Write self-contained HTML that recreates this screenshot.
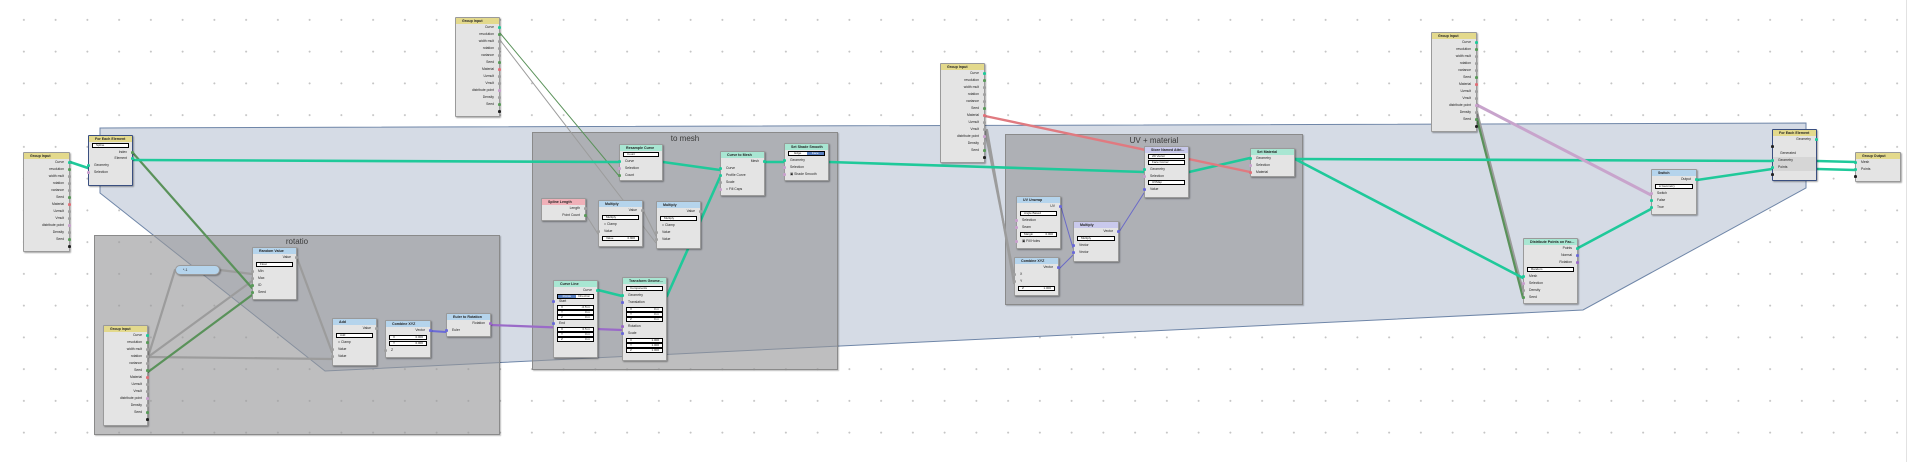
<!DOCTYPE html>
<html><head><meta charset="utf-8"><style>
*{box-sizing:border-box;margin:0;padding:0}
body{width:1920px;height:462px;overflow:hidden;position:relative;background:#fff;
background-image:radial-gradient(circle,#c4c4c4 0.8px,transparent 1.1px);background-size:31.75px 31.75px;background-position:8px 4px;
font-family:"Liberation Sans",sans-serif}
.abs{position:absolute}
.fr{position:absolute;background:rgba(150,150,152,.62);border:1px solid #8a8a8a;box-shadow:1px 1px 1px rgba(0,0,0,.25)}
.fr b{display:block;text-align:center;font:normal 8px "Liberation Sans",sans-serif;color:#3a3a3a;margin-top:1px}
.n{position:absolute;background:#e4e4e4;border:1px solid #9a9a9a;border-radius:1px;box-shadow:1px 1px 1.5px rgba(0,0,0,.35);font-size:3.4px;color:#222}
.h{height:6px;line-height:6px;font-weight:bold;padding-left:6px;white-space:nowrap;overflow:hidden;font-size:3.6px}
.y{background:#e3d98c}.b{background:#b5d4ec}.m{background:#a8e6d2}.p{background:#f0b0b8}.v{background:#c9c9ec}
.r{height:7px;line-height:7px;text-align:right;padding-right:5px;position:relative;white-space:nowrap}
.l{text-align:left;padding-left:5px}
.r i{position:absolute;right:-2px;top:2.3px;width:2.6px;height:2.6px;border-radius:50%;background:#a0a0a0}
.l i{left:-2px;right:auto}
i.g{background:#1fc99a}i.d{background:#5a9a5a}i.rd{background:#e07078}i.pk{background:#c8a0cc}i.k{background:#222}i.bl{background:#6a6ad8}i.pu{background:#9a6ac8}i.lb{background:#5aa0e0}
.dd{height:5px;margin:1px 3px;border:1px solid #000;border-bottom-width:1.5px;background:#fff;font-size:3px;line-height:3px;padding-left:3px}
.fd{height:5px;margin:1px 3px;border:1px solid #000;background:#fff;font-size:3px;line-height:3px;display:flex;justify-content:space-between;padding:0 3px}
.fe{border:1px solid #3a4f80}
</style></head><body>
<div class="abs" style="left:1906px;top:0;width:1px;height:462px;background:#e2e2e2"></div>
<svg class="abs" style="left:0;top:0" width="1920" height="462">
<polygon points="100,128 1806,123 1806,188 1583,310 325,371 100,193" fill="#d5dbe5" stroke="#6f86a8" stroke-width="1"/>
</svg>
<div class="fr" style="left:94px;top:235px;width:406px;height:200px"><b>rotatio</b></div>
<div class="fr" style="left:532px;top:132px;width:306px;height:238px"><b>to mesh</b></div>
<div class="fr" style="left:1005px;top:134px;width:298px;height:171px"><b>UV + material</b></div>
<svg class="abs" style="left:0;top:0" width="1920" height="462" fill="none" stroke-linecap="round">
<g stroke="#9c9c9c" stroke-width="2.2">
<line x1="148" y1="357" x2="175" y2="270"/><line x1="148" y1="357" x2="252" y2="281"/><line x1="148" y1="357" x2="332" y2="359"/>
<line x1="220" y1="270" x2="252" y2="274"/><line x1="297" y1="258" x2="332" y2="352"/>
<line x1="985" y1="130" x2="1014" y2="276"/><line x1="987" y1="130" x2="1014" y2="283"/>
<line x1="1477" y1="112" x2="1523" y2="291"/>
</g>
<g stroke="#9c9c9c" stroke-width="1">
<line x1="500" y1="40" x2="656" y2="243"/><line x1="586" y1="215" x2="598" y2="234"/><line x1="643" y1="210" x2="656" y2="236"/>
</g>
<g stroke="#5a925a" stroke-width="2.2">
<line x1="133" y1="153" x2="252" y2="288"/><line x1="148" y1="372" x2="252" y2="295"/><line x1="1477" y1="119" x2="1523" y2="298"/>
</g>
<line x1="500" y1="33" x2="619" y2="176" stroke="#5a925a" stroke-width="1"/>
<g stroke="#1fc99a" stroke-width="2.6">
<line x1="70" y1="162" x2="88" y2="168"/><line x1="133" y1="160" x2="619" y2="162"/>
<line x1="663" y1="162" x2="720" y2="170"/><line x1="667" y1="296" x2="720" y2="177"/>
<line x1="598" y1="290" x2="622" y2="296"/><line x1="765" y1="162" x2="784" y2="162"/>
<line x1="829" y1="162" x2="1144" y2="172"/><line x1="1189" y1="172" x2="1250" y2="158"/>
<line x1="1295" y1="159" x2="1772" y2="161"/><line x1="1295" y1="159" x2="1523" y2="278"/>
<line x1="1578" y1="248" x2="1651" y2="209"/><line x1="1697" y1="180" x2="1772" y2="169"/>
<line x1="1817" y1="161" x2="1855" y2="162"/><line x1="1817" y1="169" x2="1855" y2="170"/>
</g>
<line x1="985" y1="116" x2="1250" y2="172" stroke="#e07a80" stroke-width="2.4"/>
<line x1="1477" y1="105" x2="1651" y2="195" stroke="#c8a4cc" stroke-width="3"/>
<line x1="491" y1="325" x2="622" y2="330" stroke="#9a6ac8" stroke-width="2.2"/>
<line x1="431" y1="331" x2="446" y2="332" stroke="#6a6ad8" stroke-width="2"/>
<g stroke="#6a6ac8" stroke-width="1"><line x1="1061" y1="207" x2="1073" y2="248"/><line x1="1059" y1="269" x2="1073" y2="255"/><line x1="1119" y1="232" x2="1144" y2="193"/></g>
</svg>

<!-- Group Input left -->
<div class="n" style="left:23px;top:152px;width:47px;height:100px"><div class="h y">Group Input</div>
<div class="r">Curve<i class="g"></i></div><div class="r">resolution<i class="d"></i></div><div class="r">width mult<i></i></div><div class="r">rotation<i></i></div><div class="r">variance<i></i></div><div class="r">Seed<i class="d"></i></div><div class="r">Material<i class="rd"></i></div><div class="r">Uvmult<i></i></div><div class="r">Vmult<i></i></div><div class="r">distribute point<i class="pk"></i></div><div class="r">Density<i></i></div><div class="r">Seed<i class="d"></i></div><div class="r"><i class="k"></i></div></div>
<!-- Group Input top -->
<div class="n" style="left:455px;top:17px;width:45px;height:100px"><div class="h y">Group Input</div>
<div class="r">Curve<i class="g"></i></div><div class="r">resolution<i class="d"></i></div><div class="r">width mult<i></i></div><div class="r">rotation<i></i></div><div class="r">variance<i></i></div><div class="r">Seed<i class="d"></i></div><div class="r">Material<i class="rd"></i></div><div class="r">Uvmult<i></i></div><div class="r">Vmult<i></i></div><div class="r">distribute point<i class="pk"></i></div><div class="r">Density<i></i></div><div class="r">Seed<i class="d"></i></div><div class="r"><i class="k"></i></div></div>
<!-- Group Input UV -->
<div class="n" style="left:940px;top:63px;width:45px;height:100px"><div class="h y">Group Input</div>
<div class="r">Curve<i class="g"></i></div><div class="r">resolution<i class="d"></i></div><div class="r">width mult<i></i></div><div class="r">rotation<i></i></div><div class="r">variance<i></i></div><div class="r">Seed<i class="d"></i></div><div class="r">Material<i class="rd"></i></div><div class="r">Uvmult<i></i></div><div class="r">Vmult<i></i></div><div class="r">distribute point<i class="pk"></i></div><div class="r">Density<i></i></div><div class="r">Seed<i class="d"></i></div><div class="r"><i class="k"></i></div></div>
<!-- Group Input right -->
<div class="n" style="left:1431px;top:32px;width:46px;height:100px"><div class="h y">Group Input</div>
<div class="r">Curve<i class="g"></i></div><div class="r">resolution<i class="d"></i></div><div class="r">width mult<i></i></div><div class="r">rotation<i></i></div><div class="r">variance<i></i></div><div class="r">Seed<i class="d"></i></div><div class="r">Material<i class="rd"></i></div><div class="r">Uvmult<i></i></div><div class="r">Vmult<i></i></div><div class="r">distribute point<i class="pk"></i></div><div class="r">Density<i></i></div><div class="r">Seed<i class="d"></i></div><div class="r"><i class="k"></i></div></div>
<!-- Group Input inner -->
<div class="n" style="left:103px;top:325px;width:45px;height:101px"><div class="h y">Group Input</div>
<div class="r">Curve<i class="g"></i></div><div class="r">resolution<i class="d"></i></div><div class="r">width mult<i></i></div><div class="r">rotation<i></i></div><div class="r">variance<i></i></div><div class="r">Seed<i class="d"></i></div><div class="r">Material<i class="rd"></i></div><div class="r">Uvmult<i></i></div><div class="r">Vmult<i></i></div><div class="r">distribute point<i class="pk"></i></div><div class="r">Density<i></i></div><div class="r">Seed<i class="d"></i></div><div class="r"><i class="k"></i></div></div>

<!-- For Each start -->
<div class="n fe" style="left:88px;top:135px;width:45px;height:51px"><div class="h y">For Each Element</div>
<div class="dd">Spline</div><div class="r">Index<i class="d"></i></div><div class="r" style="margin-top:-1px">Element<i class="g"></i></div><div class="r l">Geometry<i class="g"></i></div><div class="r l">Selection<i class="pk"></i></div></div>

<!-- rotatio nodes -->
<div class="n b" style="left:175px;top:265px;width:45px;height:10px;border-radius:5px;font-size:3.5px;line-height:8px;padding-left:7px">*-1</div>
<div class="n" style="left:252px;top:247px;width:45px;height:53px"><div class="h b">Random Value</div>
<div class="r">Value<i></i></div><div class="dd">Float</div><div class="r l">Min<i></i></div><div class="r l">Max<i></i></div><div class="r l">ID<i class="d"></i></div><div class="r l">Seed<i class="d"></i></div></div>
<div class="n" style="left:332px;top:318px;width:45px;height:48px"><div class="h b">Add</div>
<div class="r">Value<i></i></div><div class="dd">Add</div><div class="r l">&#9633; Clamp</div><div class="r l">Value<i></i></div><div class="r l">Value<i></i></div></div>
<div class="n" style="left:385px;top:320px;width:46px;height:38px"><div class="h b">Combine XYZ</div>
<div class="r">Vector<i class="bl"></i></div><div class="fd"><span>X</span><span>0.000</span></div><div class="fd"><span>Y</span><span>0.000</span></div><div class="r l">Z<i></i></div></div>
<div class="n" style="left:446px;top:313px;width:45px;height:24px"><div class="h b">Euler to Rotation</div>
<div class="r">Rotation<i class="pu"></i></div><div class="r l">Euler<i class="bl"></i></div></div>

<!-- to mesh nodes -->
<div class="n" style="left:619px;top:144px;width:44px;height:37px"><div class="h m">Resample Curve</div>
<div class="dd">Count</div><div class="r l">Curve<i class="g"></i></div><div class="r l">Selection<i class="pk"></i></div><div class="r l">Count<i class="d"></i></div></div>
<div class="n" style="left:720px;top:151px;width:45px;height:45px"><div class="h m">Curve to Mesh</div>
<div class="r">Mesh<i class="g"></i></div><div class="r l">Curve<i class="g"></i></div><div class="r l">Profile Curve<i class="g"></i></div><div class="r l">Scale<i></i></div><div class="r l">&#9633; Fill Caps<i class="pk"></i></div></div>
<div class="n" style="left:784px;top:143px;width:45px;height:38px"><div class="h m">Set Shade Smooth</div>
<div style="display:flex;margin:1px 3px;height:5px;border:1px solid #000;font-size:3px;line-height:3px"><span style="flex:1;text-align:center;background:#fff">Edge</span><span style="flex:1;text-align:center;background:#5a80c0;color:#fff">Face</span></div>
<div class="r l">Geometry<i class="g"></i></div><div class="r l">Selection<i class="pk"></i></div><div class="r l">&#9635; Shade Smooth<i class="pk"></i></div></div>
<div class="n" style="left:541px;top:198px;width:45px;height:23px"><div class="h p">Spline Length</div>
<div class="r">Length<i></i></div><div class="r">Point Count<i class="d"></i></div></div>
<div class="n" style="left:598px;top:200px;width:45px;height:47px"><div class="h b">Multiply</div>
<div class="r">Value<i></i></div><div class="dd">Multiply</div><div class="r l">&#9633; Clamp</div><div class="r l">Value<i></i></div><div class="fd"><span>Value</span><span>0.900</span></div></div>
<div class="n" style="left:656px;top:201px;width:45px;height:48px"><div class="h b">Multiply</div>
<div class="r">Value<i></i></div><div class="dd">Multiply</div><div class="r l">&#9633; Clamp</div><div class="r l">Value<i></i></div><div class="r l">Value<i></i></div></div>
<div class="n" style="left:553px;top:280px;width:45px;height:78px"><div class="h m">Curve Line</div>
<div class="r">Curve<i class="g"></i></div>
<div style="display:flex;margin:0 3px;height:5px;border:1px solid #000;font-size:3px;line-height:3px"><span style="flex:1;text-align:center;background:#5a80c0;color:#fff">Points</span><span style="flex:1;text-align:center;background:#fff">Direction</span></div>
<div class="r l" style="height:5px;line-height:5px">Start<i class="bl" style="top:1.2px"></i></div>
<div class="fd"><span>X</span><span>-0.5 m</span></div><div class="fd" style="margin-top:-1px"><span>Y</span><span>0 m</span></div><div class="fd" style="margin-top:-1px"><span>Z</span><span>0 m</span></div>
<div class="r l" style="height:5px;line-height:5px">End<i class="bl" style="top:1.2px"></i></div>
<div class="fd"><span>X</span><span>0.5 m</span></div><div class="fd" style="margin-top:-1px"><span>Y</span><span>0 m</span></div><div class="fd" style="margin-top:-1px"><span>Z</span><span>0 m</span></div></div>
<div class="n" style="left:622px;top:277px;width:45px;height:84px"><div class="h m">Transform Geome...</div>
<div class="dd" style="margin-top:2px">Components</div><div class="r l">Geometry<i class="g"></i></div><div class="r l">Translation<i class="bl"></i></div>
<div class="fd"><span>X</span><span>0 m</span></div><div class="fd" style="margin-top:-1px"><span>Y</span><span>0 m</span></div><div class="fd" style="margin-top:-1px"><span>Z</span><span>0 m</span></div>
<div class="r l">Rotation<i class="pu"></i></div><div class="r l">Scale<i class="bl"></i></div>
<div class="fd"><span>X</span><span>1.000</span></div><div class="fd" style="margin-top:-1px"><span>Y</span><span>1.000</span></div><div class="fd" style="margin-top:-1px"><span>Z</span><span>1.000</span></div></div>

<!-- UV nodes -->
<div class="n" style="left:1144px;top:146px;width:45px;height:52px"><div class="h v">Store Named Attri...</div>
<div class="dd">2D Vector</div><div class="dd">Face Corner</div><div class="r l">Geometry<i class="g"></i></div><div class="r l">Selection<i class="pk"></i></div><div class="dd" style="margin-top:0">UVMap<i></i></div><div class="r l">Value<i class="bl"></i></div></div>
<div class="n" style="left:1250px;top:148px;width:45px;height:29px"><div class="h m">Set Material</div>
<div class="r l">Geometry<i class="g"></i></div><div class="r l">Selection<i class="pk"></i></div><div class="r l">Material<i class="rd"></i></div></div>
<div class="n" style="left:1016px;top:196px;width:45px;height:53px"><div class="h b">UV Unwrap</div>
<div class="r">UV<i class="bl"></i></div><div class="dd">Angle Based</div><div class="r l">Selection<i class="pk"></i></div><div class="r l">Seam<i class="pk"></i></div><div class="fd"><span>Margin</span><span>0.000</span></div><div class="r l">&#9635; Fill Holes<i class="pk"></i></div></div>
<div class="n" style="left:1073px;top:221px;width:46px;height:41px"><div class="h v">Multiply</div>
<div class="r">Vector<i class="bl"></i></div><div class="dd">Multiply</div><div class="r l">Vector<i class="bl"></i></div><div class="r l">Vector<i class="bl"></i></div></div>
<div class="n" style="left:1014px;top:257px;width:45px;height:39px"><div class="h b">Combine XYZ</div>
<div class="r">Vector<i class="bl"></i></div><div class="r l">X<i></i></div><div class="r l">Y<i></i></div><div class="fd"><span>Z</span><span>1.000</span></div></div>

<!-- right nodes -->
<div class="n" style="left:1523px;top:238px;width:55px;height:66px"><div class="h m">Distribute Points on Fac...</div>
<div class="r">Points<i class="g"></i></div><div class="r">Normal<i class="bl"></i></div><div class="r">Rotation<i class="pu"></i></div><div class="dd">Random</div><div class="r l">Mesh<i class="g"></i></div><div class="r l">Selection<i class="pk"></i></div><div class="r l">Density<i></i></div><div class="r l">Seed<i class="d"></i></div></div>
<div class="n" style="left:1651px;top:169px;width:46px;height:46px"><div class="h b">Switch</div>
<div class="r">Output<i class="g"></i></div><div class="dd">&#9679; Geometry</div><div class="r l">Switch<i class="pk"></i></div><div class="r l">False<i class="g"></i></div><div class="r l">True<i class="g"></i></div></div>
<div class="n fe" style="left:1772px;top:129px;width:45px;height:52px"><div class="h y">For Each Element</div>
<div class="r">Geometry<i class="g"></i></div><div class="r l"><i class="k"></i></div><div class="r l" style="padding-left:7px">Generated</div>
<div style="background:#d6d6d6"><div class="r l">Geometry<i class="g"></i></div><div class="r l">Points<i class="g"></i></div></div><div class="r l"><i class="k"></i></div></div>
<div class="n" style="left:1855px;top:152px;width:46px;height:30px"><div class="h y">Group Output</div>
<div class="r l">Mesh<i class="g"></i></div><div class="r l">Points<i class="g"></i></div><div class="r l"><i class="k"></i></div></div>
</body></html>
